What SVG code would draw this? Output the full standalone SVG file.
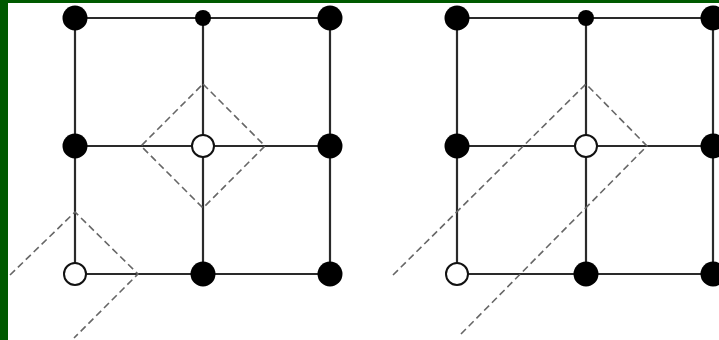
<svg xmlns="http://www.w3.org/2000/svg" width="719" height="340" viewBox="0 0 719 340">
<style>
.edge{stroke:#2a2a2a;stroke-width:2.2;fill:none}
.dash{stroke:#666;stroke-width:1.6;fill:none;stroke-dasharray:7 4}
.big{fill:#000}
.open{fill:#fff;stroke:#111;stroke-width:2}
</style>
<rect x="0" y="0" width="719" height="340" fill="#fff"/>
<rect x="0" y="0" width="719" height="3" fill="#005a00"/>
<rect x="0" y="0" width="8" height="340" fill="#005a00"/>
<g id="connectors">
<path class="edge" d="M75 18H330M75 146H330M75 274H330M75 18V274M203 18V274M330 18V274"/>
<path class="edge" d="M457 18H719M457 146H719M457 274H719M457 18V274M586 18V274M713 18V274"/>
<path class="dash" d="M203 84L265 146L203 208L141 146Z"/>
<path class="dash" d="M10 275L75 212L138 274L74 338"/>
<path class="dash" d="M393 275L586 84L647 146L460 335"/>
</g>
<g id="left-grid">
<circle id="L00" class="big" cx="75" cy="18" r="12.5"/>
<circle id="L01" class="big" cx="203" cy="18" r="8"/>
<circle id="L02" class="big" cx="330" cy="18" r="12.5"/>
<circle id="L10" class="big" cx="75" cy="146" r="12.5"/>
<circle id="L11" class="open" cx="203" cy="146" r="11"/>
<circle id="L12" class="big" cx="330" cy="146" r="12.5"/>
<circle id="L20" class="open" cx="75" cy="274" r="11"/>
<circle id="L21" class="big" cx="203" cy="274" r="12.5"/>
<circle id="L22" class="big" cx="330" cy="274" r="12.5"/>
</g>
<g id="right-grid">
<circle id="R00" class="big" cx="457" cy="18" r="12.5"/>
<circle id="R01" class="big" cx="586" cy="18" r="8"/>
<circle id="R02" class="big" cx="713" cy="18" r="12.5"/>
<circle id="R10" class="big" cx="457" cy="146" r="12.5"/>
<circle id="R11" class="open" cx="586" cy="146" r="11"/>
<circle id="R12" class="big" cx="713" cy="146" r="12.5"/>
<circle id="R20" class="open" cx="457" cy="274" r="11"/>
<circle id="R21" class="big" cx="586" cy="274" r="12.5"/>
<circle id="R22" class="big" cx="713" cy="274" r="12.5"/>
</g>
</svg>
